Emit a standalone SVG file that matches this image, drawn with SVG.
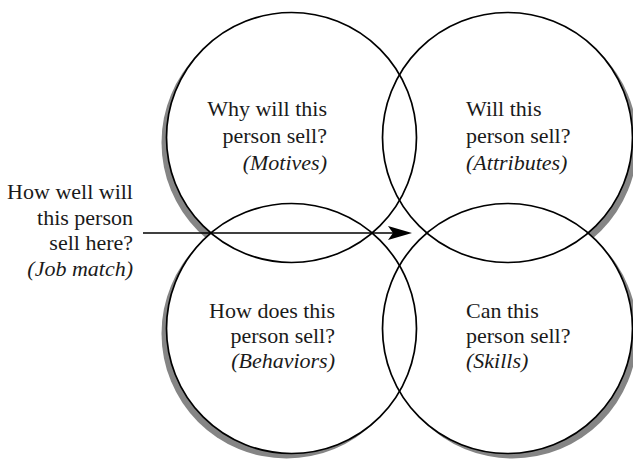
<svg xmlns="http://www.w3.org/2000/svg" width="633" height="459" viewBox="0 0 633 459">
<defs>
<style>
.shadow{fill:#858585;stroke:none}
.disc{fill:#ffffff;stroke:none}
.ring{fill:none;stroke:#000000;stroke-width:1.7}
.t{font-family:"Liberation Serif","Times New Roman",serif;font-size:22px;fill:#1a1a1a}
.i{font-style:italic}
.end{text-anchor:end}
.conn{stroke:#000000;stroke-width:1.6;fill:none}
</style>
<marker id="arrowhead" viewBox="0 0 24 16" refX="5" refY="8" markerWidth="24" markerHeight="16" markerUnits="userSpaceOnUse" orient="auto">
<path d="M0,1 L24,8 L0,15 L5,8 Z" fill="#000000"/>
</marker>
</defs>
<rect width="633" height="459" fill="#ffffff"/>
<g id="backdrop">
<circle class="shadow" cx="286.5" cy="142.5" r="125"/>
<circle class="shadow" cx="512.5" cy="142.5" r="125"/>
<circle class="shadow" cx="286.5" cy="333.5" r="125"/>
<circle class="shadow" cx="512.5" cy="333.5" r="125"/>
<circle class="disc" cx="291.5" cy="137.5" r="125"/>
<circle class="disc" cx="507.5" cy="137.5" r="125"/>
<circle class="disc" cx="291.5" cy="328.5" r="125"/>
<circle class="disc" cx="507.5" cy="328.5" r="125"/>
</g>
<g id="motives">
<circle class="ring" cx="291.5" cy="137.5" r="125"/>
<text class="t end" x="327" y="116">Why will this</text>
<text class="t end" x="327" y="143">person sell?</text>
<text class="t i end" x="327" y="170">(Motives)</text>
</g>
<g id="attributes">
<circle class="ring" cx="507.5" cy="137.5" r="125"/>
<text class="t" x="466" y="116">Will this</text>
<text class="t" x="466" y="143">person sell?</text>
<text class="t i" x="466" y="170">(Attributes)</text>
</g>
<g id="behaviors">
<circle class="ring" cx="291.5" cy="328.5" r="125"/>
<text class="t end" x="335" y="318">How does this</text>
<text class="t end" x="335" y="343">person sell?</text>
<text class="t i end" x="335" y="368">(Behaviors)</text>
</g>
<g id="skills">
<circle class="ring" cx="507.5" cy="328.5" r="125"/>
<text class="t" x="466" y="318">Can this</text>
<text class="t" x="466" y="343">person sell?</text>
<text class="t i" x="466" y="368">(Skills)</text>
</g>
<g id="job-match">
<text class="t end" x="133" y="199">How well will</text>
<text class="t end" x="133" y="224.5">this person</text>
<text class="t end" x="133" y="250">sell here?</text>
<text class="t i end" x="133" y="276">(Job match)</text>
</g>
<g id="connectors">
<line class="conn" x1="143" y1="233" x2="393" y2="233" marker-end="url(#arrowhead)"/>
</g>
</svg>
